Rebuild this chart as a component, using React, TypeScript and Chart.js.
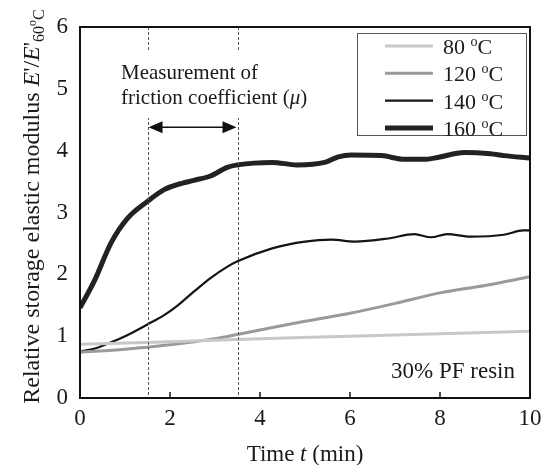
import React, { useEffect, useRef } from "react";
import { Chart, registerables } from "chart.js";

Chart.register(...registerables);

const t160 = [0, 0.33, 0.69, 1.06, 1.5, 1.87, 2.16, 2.53, 2.9, 3.27, 3.5, 4.27, 4.82, 5.44, 5.74, 6.03, 6.7, 7.21, 7.65, 7.95, 8.54, 9.12, 9.42, 10];
const v160 = [1.46, 1.91, 2.51, 2.91, 3.18, 3.37, 3.45, 3.52, 3.59, 3.73, 3.77, 3.81, 3.77, 3.81, 3.9, 3.93, 3.92, 3.86, 3.86, 3.89, 3.97, 3.95, 3.92, 3.88];
const t140 = [0, 0.33, 0.69, 1.06, 1.5, 1.87, 2.16, 2.53, 2.9, 3.27, 3.5, 4.27, 5.0, 5.59, 6.1, 6.85, 7.43, 7.8, 8.16, 8.68, 9.42, 9.85, 10];
const v140 = [0.75, 0.8, 0.9, 1.02, 1.19, 1.34, 1.49, 1.72, 1.94, 2.12, 2.21, 2.42, 2.53, 2.56, 2.53, 2.58, 2.65, 2.6, 2.65, 2.61, 2.64, 2.71, 2.71];
const t120 = [0, 1, 2, 3, 4, 5, 6, 7, 8, 9, 10];
const v120 = [0.74, 0.79, 0.86, 0.96, 1.1, 1.24, 1.37, 1.53, 1.7, 1.82, 1.96];
const t80 = [0, 2, 4, 6, 8, 10];
const v80 = [0.87, 0.91, 0.96, 1.0, 1.04, 1.08];

const seriesLabels = ["80", "120", "140", "160"];
const measureWindow = [1.5, 3.5];
const arrowLevel = 4.38;
const xTicks = [0, 2, 4, 6, 8, 10];

const SERIF = "'Liberation Serif', 'Times New Roman', serif";
const colors = ["#c8c8c8", "#9a9a9a", "#141414", "#222222"];
const widths = [3, 3, 2.2, 5];

const pts = (t: number[], v: number[]) => t.map((x, i) => ({ x, y: v[i] }));

type Seg = { text: string; size: number; italic?: boolean; dy?: number };

function drawSegs(ctx: CanvasRenderingContext2D, segs: Seg[], x: number, y: number, align: "left" | "center") {
  const widthsArr = segs.map((s) => {
    ctx.font = `${s.italic ? "italic " : ""}${s.size}px ${SERIF}`;
    return ctx.measureText(s.text).width;
  });
  const total = widthsArr.reduce((a, b) => a + b, 0);
  let cx = align === "center" ? x - total / 2 : x;
  segs.forEach((s, i) => {
    ctx.font = `${s.italic ? "italic " : ""}${s.size}px ${SERIF}`;
    ctx.fillText(s.text, cx, y + (s.dy || 0));
    cx += widthsArr[i];
  });
}

const overlay = {
  id: "overlay",
  afterDatasetsDraw(chart: any) {
    const ctx: CanvasRenderingContext2D = chart.ctx;
    const { left, right, top, bottom } = chart.chartArea;
    const xs = chart.scales.x;
    const ys = chart.scales.y;
    ctx.save();
    // dashed lines
    ctx.strokeStyle = "#555";
    ctx.lineWidth = 1;
    ctx.setLineDash([3, 2]);
    measureWindow.forEach((v) => {
      const px = Math.round(xs.getPixelForValue(v)) + 0.5;
      ctx.beginPath();
      ctx.moveTo(px, top);
      ctx.lineTo(px, bottom);
      ctx.stroke();
    });
    ctx.setLineDash([]);
    // white box behind annotation text
    ctx.fillStyle = "#fff";
    ctx.fillRect(left + 35, top + 23, 210, 68);
    // arrow
    const ax1 = xs.getPixelForValue(measureWindow[0]);
    const ax2 = xs.getPixelForValue(measureWindow[1]);
    const ay = ys.getPixelForValue(arrowLevel);
    ctx.strokeStyle = "#111";
    ctx.fillStyle = "#111";
    ctx.lineWidth = 1.5;
    ctx.beginPath();
    ctx.moveTo(ax1 + 8, ay);
    ctx.lineTo(ax2 - 8, ay);
    ctx.stroke();
    const head = 14, hh = 6;
    ctx.beginPath();
    ctx.moveTo(ax1 + 1, ay);
    ctx.lineTo(ax1 + 1 + head, ay - hh);
    ctx.lineTo(ax1 + 1 + head, ay + hh);
    ctx.closePath();
    ctx.fill();
    ctx.beginPath();
    ctx.moveTo(ax2 - 1, ay);
    ctx.lineTo(ax2 - 1 - head, ay - hh);
    ctx.lineTo(ax2 - 1 - head, ay + hh);
    ctx.closePath();
    ctx.fill();
    // annotation text
    ctx.fillStyle = "#1a1a1a";
    ctx.textBaseline = "alphabetic";
    drawSegs(ctx, [{ text: "Measurement of", size: 21 }], left + 41, top + 52, "left");
    drawSegs(ctx, [
      { text: "friction coefficient (", size: 21 },
      { text: "\u03bc", size: 21, italic: true },
      { text: ")", size: 21 },
    ], left + 41, top + 77, "left");
    // resin label
    ctx.textAlign = "right";
    ctx.font = `23px ${SERIF}`;
    ctx.fillText("30% PF resin", right - 15, bottom - 20);
    ctx.textAlign = "left";
    // frame
    ctx.strokeStyle = "#111";
    ctx.lineWidth = 2;
    ctx.strokeRect(left, top, right - left, bottom - top);
    // inner x ticks
    ctx.lineWidth = 1.5;
    xTicks.forEach((v) => {
      const px = xs.getPixelForValue(v);
      ctx.beginPath();
      ctx.moveTo(px, bottom);
      ctx.lineTo(px, bottom - 6);
      ctx.stroke();
    });
    // legend
    const lx1 = right - 173, lx2 = right - 4, ly1 = top + 6, ly2 = top + 108;
    ctx.fillStyle = "#fff";
    ctx.fillRect(lx1, ly1, lx2 - lx1, ly2 - ly1);
    ctx.strokeStyle = "#555";
    ctx.lineWidth = 1;
    ctx.strokeRect(lx1 + 0.5, ly1 + 0.5, lx2 - lx1, ly2 - ly1);
    seriesLabels.forEach((lab, i) => {
      const yy = ly1 + 13 + i * 27.3;
      ctx.strokeStyle = colors[i];
      ctx.lineWidth = widths[i];
      ctx.beginPath();
      ctx.moveTo(lx1 + 28, yy);
      ctx.lineTo(lx1 + 76, yy);
      ctx.stroke();
      ctx.fillStyle = "#1a1a1a";
      ctx.textBaseline = "alphabetic";
      drawSegs(ctx, [
        { text: lab + " ", size: 22 },
        { text: "o", size: 14, dy: -8 },
        { text: "C", size: 22 },
      ], lx1 + 86, yy + 8, "left");
    });
    ctx.restore();
  },
  afterDraw(chart: any) {
    const ctx: CanvasRenderingContext2D = chart.ctx;
    const { left, right, top, bottom } = chart.chartArea;
    ctx.save();
    ctx.fillStyle = "#1a1a1a";
    ctx.textBaseline = "alphabetic";
    // x title
    drawSegs(ctx, [
      { text: "Time ", size: 23 },
      { text: "t", size: 23, italic: true },
      { text: " (min)", size: 23 },
    ], (left + right) / 2, 461, "center");
    // y title
    ctx.translate(39, (top + bottom) / 2 - 6);
    ctx.rotate(-Math.PI / 2);
    drawSegs(ctx, [
      { text: "Relative storage elastic modulus ", size: 24 },
      { text: "E", size: 24, italic: true },
      { text: "'/", size: 24 },
      { text: "E", size: 24, italic: true },
      { text: "'", size: 24 },
      { text: "60", size: 16, dy: 5 },
      { text: "o", size: 12, dy: -3 },
      { text: "C", size: 16, dy: 5 },
    ], 0, 0, "center");
    ctx.restore();
  },
};

export default function App() {
  const ref = useRef<HTMLCanvasElement>(null);
  useEffect(() => {
    if (!ref.current) return;
    const chart = new Chart(ref.current, {
      type: "line",
      data: {
        datasets: [
          { label: "80", data: pts(t80, v80) },
          { label: "120", data: pts(t120, v120) },
          { label: "140", data: pts(t140, v140) },
          { label: "160", data: pts(t160, v160) },
        ].map((d, i) => ({
          ...d,
          borderColor: colors[i],
          borderWidth: widths[i],
          pointRadius: 0,
          tension: 0.4,
          cubicInterpolationMode: "monotone" as const,
          fill: false,
        })),
      },
      options: {
        animation: false,
        responsive: false,
        layout: { padding: { top: 27, right: 21, left: 0, bottom: 0 } },
        plugins: { legend: { display: false }, tooltip: { enabled: false } },
        scales: {
          x: {
            type: "linear",
            min: 0,
            max: 10,
            afterFit: (s: any) => { s.height = 67; },
            grid: { display: false, drawTicks: false },
            border: { display: false },
            ticks: {
              stepSize: 2,
              padding: 7,
              color: "#1a1a1a",
              font: { family: SERIF, size: 23 },
              maxRotation: 0,
            },
          },
          y: {
            type: "linear",
            min: 0,
            max: 6,
            afterFit: (s: any) => { s.width = 80; },
            grid: { display: false, drawTicks: false },
            border: { display: false },
            ticks: {
              stepSize: 1,
              padding: 12,
              color: "#1a1a1a",
              font: { family: SERIF, size: 23 },
            },
          },
        },
      },
      plugins: [overlay],
    });
    return () => chart.destroy();
  }, []);
  return (
    <div style={{ position: "fixed", left: 0, top: 0, width: 551, height: 465, background: "#fff" }}>
      <canvas ref={ref} width={551} height={465} style={{ width: 551, height: 465 }} />
    </div>
  );
}
